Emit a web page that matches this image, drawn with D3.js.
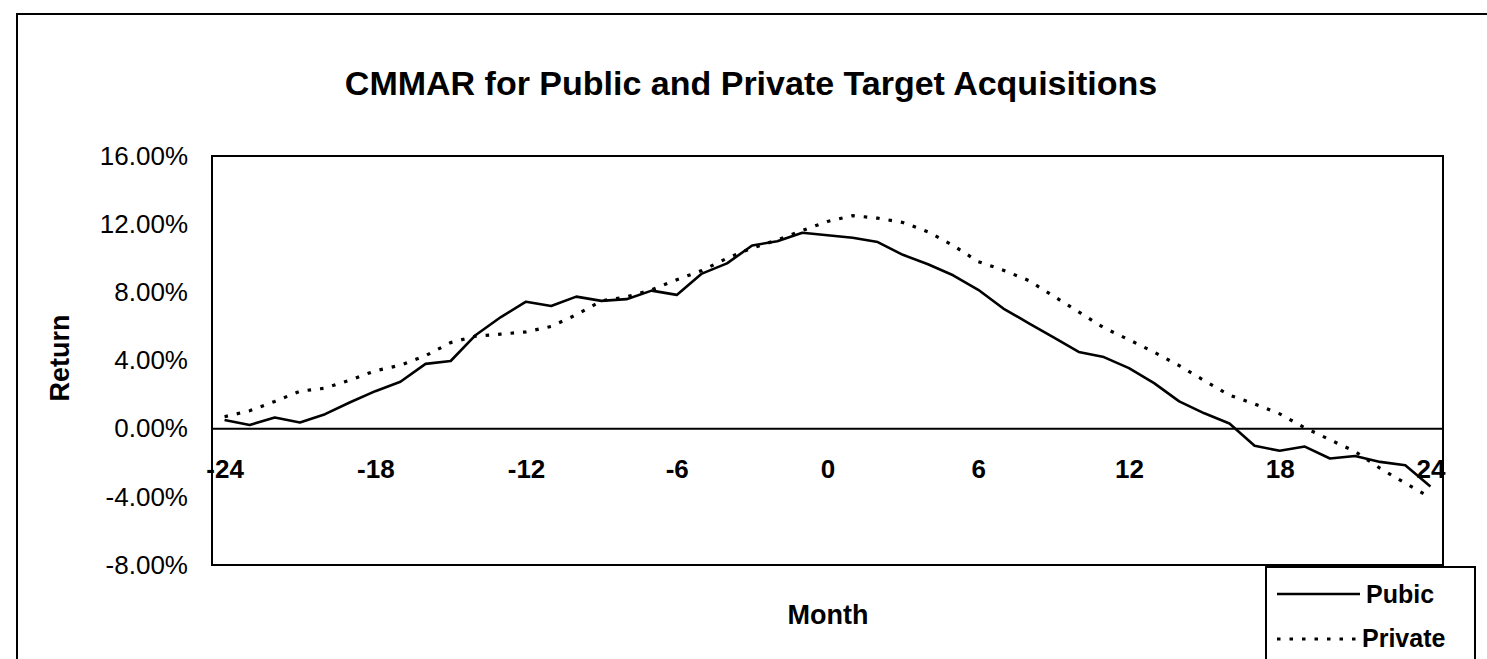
<!DOCTYPE html>
<html>
<head>
<meta charset="utf-8">
<script src="https://cdn.jsdelivr.net/npm/d3@7/dist/d3.min.js"></script>
<style>
  html, body { margin: 0; padding: 0; background: #fff; }
  svg { display: block; }
  text { font-family: "Liberation Sans", Arial, Helvetica, sans-serif; fill: #000; }
</style>
</head>
<body>
<svg id="chart" width="1487" height="659"></svg>
<script>
// ---- Data ----
const months = [-24,-23,-22,-21,-20,-19,-18,-17,-16,-15,-14,-13,-12,-11,-10,-9,-8,-7,-6,-5,-4,-3,-2,-1,0,
                1,2,3,4,5,6,7,8,9,10,11,12,13,14,15,16,17,18,19,20,21,22,23,24];
const publicReturn = [0.51,0.22,0.65,0.36,0.85,1.55,2.2,2.75,3.8,3.97,5.5,6.55,7.45,7.2,7.75,7.5,7.6,8.1,7.85,9.1,9.7,10.75,11.0,11.5,11.35,
                      11.2,10.95,10.2,9.65,9.0,8.15,7.05,6.2,5.35,4.5,4.2,3.55,2.67,1.6,0.9,0.3,-1.0,-1.3,-1.05,-1.75,-1.6,-1.95,-2.15,-3.4];
const privateReturn = [0.7,1.05,1.6,2.2,2.38,2.85,3.4,3.72,4.28,5.05,5.43,5.55,5.68,6.0,6.68,7.5,7.73,8.15,8.74,9.28,10.0,10.6,11.07,11.63,12.16,
                       12.5,12.35,12.1,11.55,10.75,9.8,9.3,8.7,7.78,6.85,5.92,5.22,4.49,3.7,2.82,1.97,1.45,0.87,0.05,-0.65,-1.34,-2.33,-3.2,-4.05];
const xTickLabels = [-24,-18,-12,-6,0,6,12,18,24];
const yTickLabels = [-8,-4,0,4,8,12,16];
const seriesNames = ["Pubic", "Private"];
const titleText = "CMMAR for Public and Private Target Acquisitions";

// ---- Layout ----
const svg = d3.select("#chart");
const plot = { left: 212, right: 1443, top: 156, bottom: 565 };

const x = d3.scalePoint().domain(months).range([plot.left, plot.right]).padding(0.5);
const y = d3.scaleLinear().domain([-8, 16]).range([plot.bottom, plot.top]);

// outer chart border (extends beyond the visible area)
svg.append("rect")
  .attr("x", 17).attr("y", 14).attr("width", 1600).attr("height", 800)
  .attr("fill", "none").attr("stroke", "#000").attr("stroke-width", 2);

// title
svg.append("text")
  .attr("x", 751).attr("y", 95)
  .attr("text-anchor", "middle")
  .attr("font-size", 34).attr("font-weight", "bold")
  .text(titleText);

// plot area border
svg.append("rect")
  .attr("x", plot.left).attr("y", plot.top)
  .attr("width", plot.right - plot.left).attr("height", plot.bottom - plot.top)
  .attr("fill", "none").attr("stroke", "#000").attr("stroke-width", 2);

// y axis
const yAxis = d3.axisLeft(y).tickValues(yTickLabels).tickSize(0).tickPadding(24)
  .tickFormat(d => d.toFixed(2) + "%");
const gy = svg.append("g").attr("transform", `translate(${plot.left},0)`).call(yAxis);
gy.select(".domain").remove();
gy.selectAll("text").attr("font-size", 26).attr("font-family", '"Liberation Sans", Arial, sans-serif').attr("fill", "#000");

// zero line (category axis crossing at 0)
svg.append("line")
  .attr("x1", plot.left).attr("x2", plot.right)
  .attr("y1", y(0)).attr("y2", y(0))
  .attr("stroke", "#000").attr("stroke-width", 2);

// x axis labels
const xAxis = d3.axisBottom(x).tickValues(xTickLabels).tickSize(0).tickPadding(31);
const gx = svg.append("g").attr("transform", `translate(0,${y(0)})`).call(xAxis);
gx.select(".domain").remove();
gx.selectAll("text").attr("font-size", 26).attr("font-weight", "bold")
  .attr("font-family", '"Liberation Sans", Arial, sans-serif').attr("fill", "#000");

// axis titles
svg.append("text")
  .attr("x", 828).attr("y", 624)
  .attr("text-anchor", "middle")
  .attr("font-size", 27).attr("font-weight", "bold")
  .text("Month");
svg.append("text")
  .attr("transform", "translate(69,358) rotate(-90)")
  .attr("text-anchor", "middle")
  .attr("font-size", 27).attr("font-weight", "bold")
  .text("Return");

// lines
const line = d3.line().x((d, i) => x(months[i])).y(d => y(d));
svg.append("path").datum(publicReturn)
  .attr("d", line).attr("fill", "none")
  .attr("stroke", "#000").attr("stroke-width", 2.6).attr("stroke-linejoin", "round");
svg.append("path").datum(privateReturn)
  .attr("d", line).attr("fill", "none")
  .attr("stroke", "#000").attr("stroke-width", 3.2)
  .attr("stroke-dasharray", "3.5 9");

// legend
const lg = svg.append("g");
lg.append("rect")
  .attr("x", 1266).attr("y", 567).attr("width", 209).attr("height", 200)
  .attr("fill", "#fff").attr("stroke", "#000").attr("stroke-width", 2);
lg.append("line").attr("x1", 1277).attr("x2", 1360).attr("y1", 594).attr("y2", 594)
  .attr("stroke", "#000").attr("stroke-width", 2.6);
lg.append("line").attr("x1", 1277).attr("x2", 1360).attr("y1", 639).attr("y2", 639)
  .attr("stroke", "#000").attr("stroke-width", 3.2).attr("stroke-dasharray", "3.5 9");
lg.append("text").attr("x", 1366).attr("y", 603)
  .attr("font-size", 25).attr("font-weight", "bold").text(seriesNames[0]);
lg.append("text").attr("x", 1362).attr("y", 647)
  .attr("font-size", 25).attr("font-weight", "bold").text(seriesNames[1]);
</script>
</body>
</html>
